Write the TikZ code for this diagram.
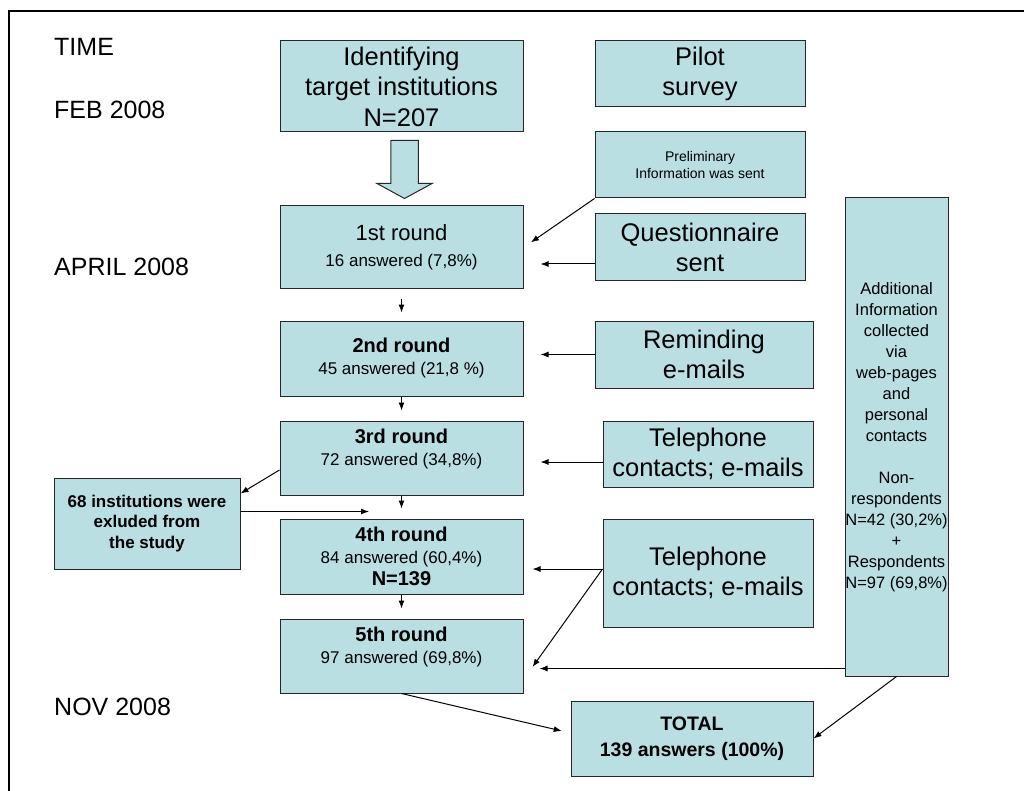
\documentclass[tikz,border=0pt]{standalone}
\usepackage{fontspec}
\setmainfont{Liberation Sans}
\usetikzlibrary{arrows.meta,calc,positioning}
\definecolor{boxblue}{RGB}{185,223,227}
\tikzset{
    block/.style = {draw=black!85, fill=boxblue, rectangle, line width=1pt,
        inner sep=0pt, align=center},
    bigtext/.style = {font=\fontsize{25.5}{30.5}\selectfont},
    roundtext/.style = {font=\fontsize{17}{22}\selectfont},
    timelabel/.style = {anchor=west, inner sep=0pt, font=\fontsize{25}{30}\selectfont},
    arrow/.style = {draw, line width=1pt, -{Latex[length=8pt,width=6pt]}},
    bigarrow/.style = {draw=black!85, fill=boxblue, line width=1pt}
}
\def\hollowarrow{%
    +(-13.75,0) -- +(13.75,0) -- +(13.75,43) -- +(27.5,43) -- +(0,58) -- +(-27.5,43) -- +(-13.75,43) -- cycle
}

\begin{document}
\begin{tikzpicture}[x=1pt, y=-1pt]
    \useasboundingbox (0,0) rectangle (1024,791);
    \draw [line width=2pt] (9,791) -- (9,11) -- (1024,11);
    % time axis
    \node [timelabel] (time) at (54,47) {TIME};
    \node [timelabel] (feb) at (54,110) {FEB 2008};
    \node [timelabel] (april) at (54,267) {APRIL 2008};
    \node [timelabel] (nov) at (54,707) {NOV 2008};
    % main column
    \node [block, bigtext, minimum width=243pt, minimum height=91pt] (ident) at (401.5,86.5)
        {Identifying\\target institutions\\N=207};
    \node [block, font=\fontsize{17}{26}\selectfont, minimum width=243pt, minimum height=83pt] (r1) at (401.5,247.5)
        {{\fontsize{22}{26}\selectfont 1st round}\\16 answered (7,8\%)};
    \node [block, roundtext, minimum width=243pt, minimum height=75pt, below of=r1, node distance=111pt] (r2)
        {{\bfseries\fontsize{20}{22}\selectfont 2nd round}\\45 answered (21,8 \%)};
    \node [block, roundtext, minimum width=243pt, minimum height=74pt, below of=r2, node distance=99.5pt] (r3)
        {{\bfseries\fontsize{20}{22}\selectfont 3rd round}\\72 answered (34,8\%)\\\mbox{}};
    \node [block, roundtext, minimum width=243pt, minimum height=75pt, below of=r3, node distance=98.5pt] (r4)
        {{\bfseries\fontsize{20}{22}\selectfont 4th round}\\84 answered (60,4\%)\\{\bfseries\fontsize{20}{22}\selectfont N=139}};
    \node [block, roundtext, minimum width=243pt, minimum height=74pt, below of=r4, node distance=99.5pt] (r5)
        {{\bfseries\fontsize{20}{22}\selectfont 5th round}\\97 answered (69,8\%)\\\mbox{}};
    \node [block, font=\bfseries\fontsize{19.5}{26}\selectfont, minimum width=242pt, minimum height=75pt] (total) at (692,738.5)
        {TOTAL\\139 answers (100\%)};
    \node [block, font=\bfseries\fontsize{17}{20.5}\selectfont, minimum width=186pt, minimum height=91pt] (excl) at (147,523.5)
        {68 institutions were\\exluded from\\the study};
    % side column
    \node [block, bigtext, minimum width=210pt, minimum height=66pt] (pilot) at (700,74) {Pilot\\survey};
    \node [block, font=\fontsize{14}{17}\selectfont, minimum width=210pt, minimum height=66pt] (prelim) at (700,165)
        {Preliminary\\Information was sent};
    \node [block, bigtext, minimum width=210pt, minimum height=67pt] (quest) at (700,247.5) {Questionnaire\\sent};
    \node [block, bigtext, minimum width=218pt, minimum height=67pt] (remind) at (704,354.5) {Reminding\\e-mails};
    \node [block, bigtext, minimum width=210pt, minimum height=66pt] (tel1) at (708,454) {Telephone\\contacts; e-mails};
    \node [block, bigtext, minimum width=210pt, minimum height=108pt] (tel2) at (708,573) {Telephone\\contacts; e-mails};
    \node [block, minimum width=103pt, minimum height=478pt] (addinfo) at (896.5,437) {};
    \node [align=center, inner sep=0pt, font=\fontsize{16.5}{21}\selectfont] (addinfotext) at (addinfo)
        {Additional\\Information\\collected\\via\\web-pages\\and\\personal\\contacts\\\mbox{}\\Non-\\respondents\\N=42 (30,2\%)\\+\\Respondents\\N=97 (69,8\%)};
    % connectors
    \coordinate (bigtop) at ($(ident.south)+(3,8)$);
    \draw [bigarrow] (bigtop) \hollowarrow;
    \draw [arrow, shorten <=9pt, shorten >=8pt] (r1) -- (r2);
    \foreach \a [evaluate=\a as \prev using int(\a-1)] in {3,4,5}{
        \draw [arrow, shorten >=10pt] (r\prev) -- (r\a);
    }
    \draw [arrow, shorten >=9pt] (prelim.south west) -- (r1.east);
    \coordinate (questout) at ($(quest.west)+(0,16.5)$);
    \draw [arrow, shorten >=17pt] (questout) -- (questout -| r1.east);
    \draw [arrow, shorten >=17pt] (remind.west) -- (remind.west -| r2.east);
    \coordinate (tel1out) at ($(tel1.west)+(0,8)$);
    \draw [arrow, shorten >=17pt] (tel1out) -- (tel1out -| r3.east);
    \coordinate (tel2out) at ($(tel2.west)+(0,-4)$);
    \draw [arrow, shorten >=9pt] (tel2out) -- (tel2out -| r4.east);
    \coordinate (r5in) at ($(r5.east)+(9,11)$);
    \draw [arrow] (tel2out) -- (r5in);
    \coordinate (addout) at ($(addinfo.south west)+(0,-8)$);
    \draw [arrow, shorten >=16pt] (addout) -- (addout -| r5.east);
    \draw [arrow] (addinfo.south) -- (total.east);
    \coordinate (totalin) at ($(total.west)+(0,-5.5)$);
    \draw [arrow, shorten >=9pt] (r5.south) -- (totalin);
    \coordinate (r3out) at ($(r3.west)+(0,12)$);
    \coordinate (exclin) at ($(excl.north east)+(0,16)$);
    \draw [arrow] (r3out) -- (exclin);
    \coordinate (gap34) at ($(r4.north)+(-32.5,-7)$);
    \draw [arrow] (gap34 -| excl.east) -- (gap34);
\end{tikzpicture}
\end{document}
